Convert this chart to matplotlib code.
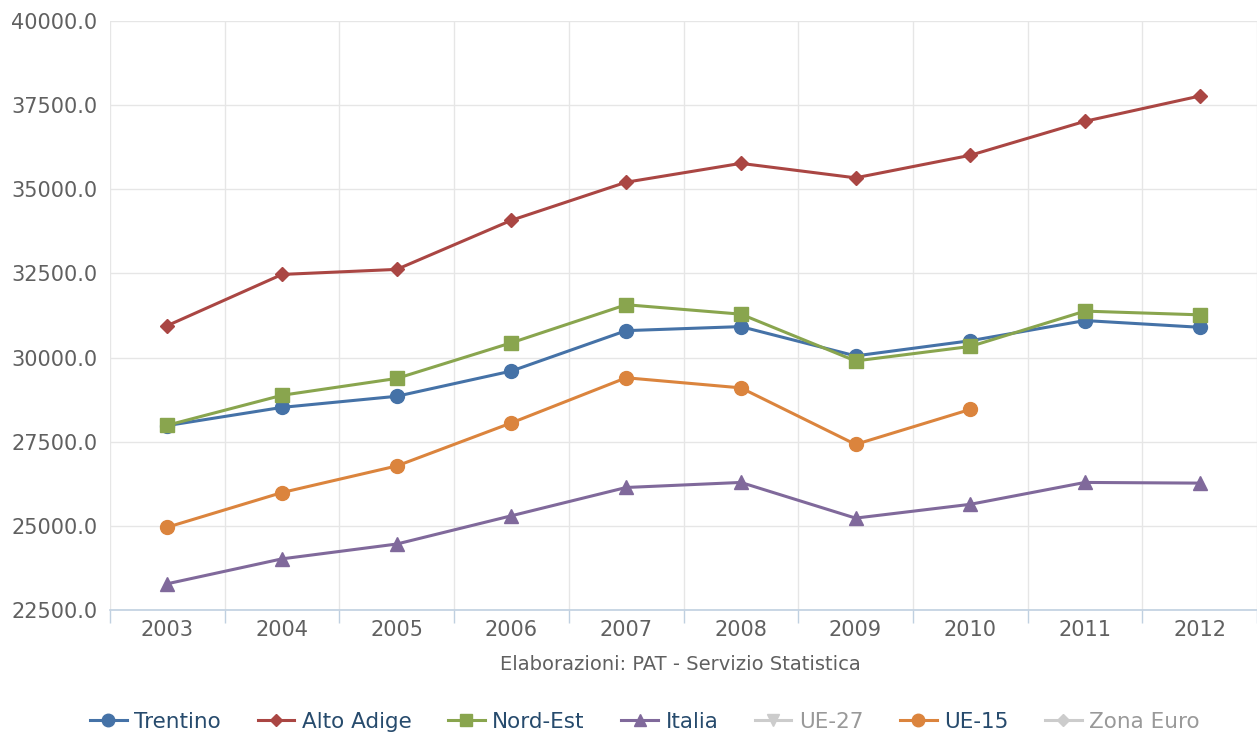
import matplotlib.pyplot as plt
from matplotlib.lines import Line2D

# ==== data ====
years = ["2003", "2004", "2005", "2006", "2007", "2008", "2009", "2010", "2011", "2012"]

trentino = [27980, 28520, 28850, 29600, 30800, 30920, 30050, 30500, 31100, 30900]
alto_adige = [30950, 32470, 32620, 34080, 35210, 35770, 35340, 36010, 37020, 37770]
nord_est = [27990, 28880, 29380, 30440, 31570, 31290, 29900, 30330, 31380, 31270]
italia = [23280, 24020, 24460, 25300, 26140, 26290, 25230, 25640, 26290, 26270]
ue15 = [24960, 25990, 26780, 28060, 29400, 29100, 27420, 28460]

# ==== style ====
plt.rcParams['font.family'] = ['DejaVu Sans']
C_TRE = "#4572A7"
C_ALT = "#AA4643"
C_NOR = "#89A54E"
C_ITA = "#80699B"
C_UE15 = "#DB843D"
C_OFF = "#CCCCCC"

fig = plt.figure(figsize=(12.57, 7.37), dpi=100)
ax = fig.add_axes([110 / 1257, 1 - 610 / 737, 1147 / 1257, 589 / 737])

x = list(range(len(years)))
ax.plot(x, trentino, color=C_TRE, lw=2.2, marker="o", ms=10, label="Trentino", zorder=3)
ax.plot(x, alto_adige, color=C_ALT, lw=2.2, marker="D", ms=7, label="Alto Adige", zorder=3)
ax.plot(x, nord_est, color=C_NOR, lw=2.2, marker="s", ms=10, label="Nord-Est", zorder=3)
ax.plot(x, italia, color=C_ITA, lw=2.2, marker="^", ms=10, label="Italia", zorder=3)
ax.plot(x[:len(ue15)], ue15, color=C_UE15, lw=2.2, marker="o", ms=10, label="UE-15", zorder=3)

ax.set_xlim(-0.5, len(years) - 0.5)
ax.set_ylim(22500, 40000)
ax.set_yticks(range(22500, 40001, 2500))
ax.set_yticklabels([f"{v:.1f}" for v in range(22500, 40001, 2500)])

# category labels at centres, ticks/grid at boundaries
ax.set_xticks(x)
ax.set_xticklabels(years)
ax.set_xticks([i - 0.5 for i in range(len(years) + 1)], minor=True)
ax.tick_params(axis="x", which="major", length=0, pad=7, labelsize=15, labelcolor="#606060")
ax.tick_params(axis="x", which="minor", length=9, color="#C0D0E0", width=1)
ax.tick_params(axis="y", length=0, pad=9, labelsize=15, labelcolor="#606060")

ax.grid(True, axis="y", color="#E6E6E6", lw=1)
ax.grid(True, axis="x", which="minor", color="#E6E6E6", lw=1)
ax.set_axisbelow(True)
for s in ["top", "right", "left"]:
    ax.spines[s].set_visible(False)
ax.spines["bottom"].set_color("#C0D0E0")
ax.spines["bottom"].set_linewidth(1.2)

fig.text(680 / 1257, 1 - 665 / 737, "Elaborazioni: PAT - Servizio Statistica",
         ha="center", va="center", fontsize=14, color="#606060")

# legend incl. hidden series
handles = [
    Line2D([], [], color=C_TRE, lw=2.2, marker="o", ms=9),
    Line2D([], [], color=C_ALT, lw=2.2, marker="D", ms=6.5),
    Line2D([], [], color=C_NOR, lw=2.2, marker="s", ms=9),
    Line2D([], [], color=C_ITA, lw=2.2, marker="^", ms=9),
    Line2D([], [], color=C_OFF, lw=2.2, marker="v", ms=9),
    Line2D([], [], color=C_UE15, lw=2.2, marker="o", ms=9),
    Line2D([], [], color=C_OFF, lw=2.2, marker="D", ms=6.5),
]
labels = ["Trentino", "Alto Adige", "Nord-Est", "Italia", "UE-27", "UE-15", "Zona Euro"]
leg = fig.legend(handles, labels, loc="center", bbox_to_anchor=(645 / 1257, 1 - 722 / 737),
                 ncol=7, frameon=False, fontsize=15.5, handlelength=1.7, handletextpad=0.35,
                 columnspacing=1.7)
for t, lab in zip(leg.get_texts(), labels):
    t.set_color("#999999" if lab in ("UE-27", "Zona Euro") else "#274B6D")

fig.savefig("out.png", dpi=100)
